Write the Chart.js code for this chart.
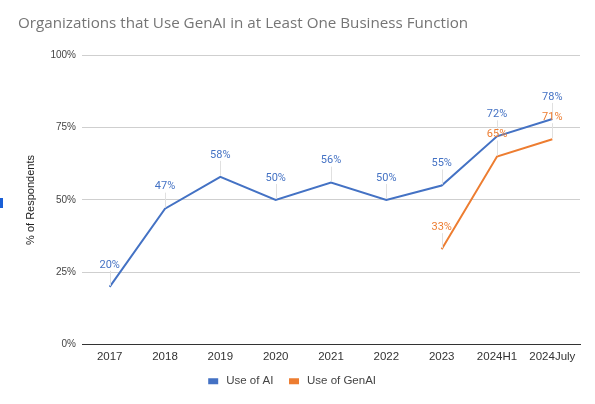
<!DOCTYPE html>
<html>
<head>
<meta charset="utf-8">
<script src="https://cdn.jsdelivr.net/npm/chart.js@4/dist/chart.umd.min.js"></script>
<style>
html,body{margin:0;padding:0;background:#fff;}
#wrap{position:relative;width:595px;height:404px;}
#mark{position:absolute;left:0;top:198px;width:3px;height:10px;background:#1a5fd6;}
</style>
</head>
<body>
<div id="wrap"><canvas id="c" width="595" height="404"></canvas><div id="mark"></div></div>
<script>
const categories = ["2017","2018","2019","2020","2021","2022","2023","2024H1","2024July"];
const useOfAI = [20,47,58,50,56,50,55,72,78];
const useOfGenAI = [null,null,null,null,null,null,33,65,71];
const yTicks = [0,25,50,75,100];

const BLUE = "#4472c4";
const ORANGE = "#ed7d31";

const labelPlugin = {
  id: "pointLabels",
  afterDatasetsDraw(chart) {
    const ctx = chart.ctx;
    ctx.save();
    chart.data.datasets.forEach((ds, i) => {
      const meta = chart.getDatasetMeta(i);
      meta.data.forEach((pt, j) => {
        const v = ds.data[j];
        if (v === null || v === undefined) return;
        const x = pt.x, y = pt.y;
        const ly = y - 22;
        ctx.strokeStyle = "#e0e0e0";
        ctx.lineWidth = 1;
        ctx.beginPath();
        ctx.moveTo(Math.round(x) + 0.5, ly + 6);
        ctx.lineTo(Math.round(x) + 0.5, y - 1);
        ctx.stroke();
        ctx.fillStyle = ds.borderColor;
        ctx.font = "11px Roboto";
        ctx.textAlign = "center";
        ctx.textBaseline = "middle";
        ctx.fillText(v + "%", x, ly);
      });
    });
    ctx.restore();
  }
};

const legendPad = [" Use of AI   ", " Use of GenAI    "];

new Chart(document.getElementById("c"), {
  type: "line",
  data: {
    labels: categories,
    datasets: [
      { label: "Use of AI", data: useOfAI, borderColor: BLUE, backgroundColor: BLUE, borderWidth: 2, pointRadius: 0, tension: 0 },
      { label: "Use of GenAI", data: useOfGenAI, borderColor: ORANGE, backgroundColor: ORANGE, borderWidth: 2, pointRadius: 0, tension: 0, spanGaps: false }
    ]
  },
  options: {
    responsive: false,
    animation: false,
    devicePixelRatio: 1,
    layout: { padding: { left: 18, right: 15, top: 11, bottom: 7 } },
    plugins: {
      title: {
        display: true,
        text: "Organizations that Use GenAI in at Least One Business Function",
        align: "start",
        color: "#757575",
        font: { family: "Open Sans", size: 15.2, weight: "normal" },
        padding: { top: 4, bottom: 22 }
      },
      legend: {
        position: "bottom",
        labels: {
          boxWidth: 8, boxHeight: 4, color: "#444",
          font: { family: "Liberation Sans", size: 11.5 },
          padding: 7,
          generateLabels(chart) {
            const items = Chart.defaults.plugins.legend.labels.generateLabels(chart);
            items.forEach((it, k) => { it.text = legendPad[k]; });
            return items;
          }
        }
      },
      tooltip: { enabled: false }
    },
    scales: {
      x: {
        offset: true,
        grid: { display: false, drawTicks: false },
        border: { display: true, color: "#333", width: 1 },
        ticks: { color: "#333", font: { family: "Liberation Sans", size: 11.5 }, padding: 5, maxRotation: 0, autoSkip: false }
      },
      y: {
        min: 0, max: 100,
        afterBuildTicks(scale) { scale.ticks = yTicks.map(v => ({ value: v })); },
        afterFit(scale) { scale.width = 64; },
        grid: { color: "#cfcfcf", drawTicks: false },
        border: { display: false },
        ticks: { color: "#444", font: { family: "Liberation Sans", size: 10 }, padding: 6, callback: v => v + "%" },
        title: { display: true, text: "% of Respondents", color: "#222", font: { family: "Liberation Sans", size: 11 }, padding: { top: 6, bottom: 10 } }
      }
    }
  },
  plugins: [labelPlugin]
});
</script>
</body>
</html>
